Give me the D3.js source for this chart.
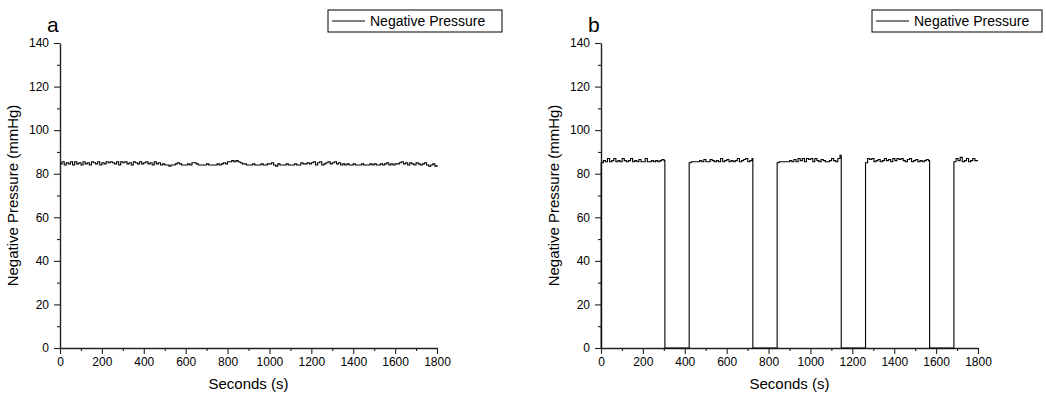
<!DOCTYPE html>
<html>
<head>
<meta charset="utf-8">
<script src="https://cdn.jsdelivr.net/npm/d3@7"></script>
<style>
  body { margin: 0; background: #fff; }
  svg text { font-family: "Liberation Sans", Arial, sans-serif; fill: #000; }
  .axis path, .axis line { stroke: #222; }
  .axis path { stroke-width: 1.4; }
  .axis line { stroke-width: 1.1; }
  .axis text { font-size: 12px; }
</style>
</head>
<body>
<div id="chart"></div>
<script>
// panel a: steady vacuum, one reading every 10 s from 0 to 1800 s
const aStep = 10;
const aPressure = [
  84.5,85.5,84,85,84.5,85.5,84,85.5,84.5,85,84,85.5,84.5,85,84,85.5,85,84.5,85.5,84,85,
  84.5,85.5,85,85.5,85,84.5,85.5,84,85.5,85,85.5,84.5,85,84,85.5,85,84.5,85.5,84.5,85,
  85.5,84.5,85,84,85.5,84.5,85,84,84.5,84,84,83.5,84,84,84.5,85,84.5,84,84,84,
  84.5,84,85,85,84.5,84,84,84,84,84.5,84,84,84,84,84.5,84,84.5,85,84.5,85.5,
  85.5,86,85.5,86,85.5,85,84.5,84.5,84,84,84,84.5,84,84,84,84.5,84,84,84.5,84.5,
  85,84,83.5,84.5,84,84,84,84.5,84,84,84,84.5,84,84,85,84.5,84.5,85,84.5,85,
  85.5,84,85,85.5,84,84.5,85,85.5,84.5,85,85.5,84.5,85,84,84.5,84,84.5,84,84,84.5,
  84,84,84,84.5,84,84,84,84.5,84,84.5,84,84,84.5,84,84.5,85,84,84.5,84,84.5,
  84.5,85,85.5,84.5,85,84,85,84.5,84,85,84.5,84,84.5,85,84,83.5,84,84.5,83.5,84
];

// panel b: intermittent vacuum, on/off cycles
const bOnStart = [0, 420, 840, 1262, 1684];
const bOnEnd = [304, 724, 1146, 1568, 1800];
const bStep = 10;
const bSeg1 = [85,86,85.5,87,85.5,86,87,85.5,86,85.5,87,86,85.5,86,87,85.5,86,85.5,86.5,85.5,85.5,87,85.5,85.5,86,85.5,86,85.5,86,86.5,86];
const bSeg2 = [85,85.5,85.5,85.5,85.5,86,85.5,86.5,85.5,85.5,86.5,86,85.5,86,85.5,87,85.5,86,86.5,85.5,86,85.5,86,87,85.5,86,86.5,87,85.5,86,87];
const bSeg3 = [85,85.5,85.5,85.5,85.5,85.5,86,85.5,86.5,85.5,87,86,87,85.5,87,86.5,87,85.5,87,86,85.5,86.5,86,85.5,85.5,86,87,86,85.5,87,88.5];
const bSeg4 = [85,87,86.5,87,85.5,86,86.5,85.5,86,87,86,86.5,85.5,87,86,87,86.5,87,86,85.5,86.5,87,85.5,86,86.5,85.5,86,85.5,86,86.5,86];
const bSeg5 = [85.5,87,86,87.5,85.5,86,87,85.5,86,87,86,86,86];
const bSegments = [bSeg1, bSeg2, bSeg3, bSeg4, bSeg5];

const xMajor = [0,200,400,600,800,1000,1200,1400,1600,1800];
const xMinor = [100,300,500,700,900,1100,1300,1500,1700];
const yMajor = [0,20,40,60,80,100,120,140];
const yMinor = [10,30,50,70,90,110,130];

const seriesName = "Negative Pressure";
const xTitle = "Seconds (s)";
const yTitle = "Negative Pressure (mmHg)";

// build point lists
const aData = aPressure.map((p, i) => ({ t: i * aStep, p: p }));

const bData = [];
bSegments.forEach((seg, k) => {
  const s = bOnStart[k], e = bOnEnd[k];
  bData.push({ t: s, p: 0 });
  seg.forEach((p, i) => bData.push({ t: Math.min(s + i * bStep + 1, e), p: p }));
  if (e < 1800) {
    bData.push({ t: e + 1, p: 0 });
  }
  if (k < bSegments.length - 1) bData.push({ t: bOnStart[k + 1], p: 0 });
});

const width = 1046, height = 394;
const svg = d3.select("#chart").append("svg")
  .attr("width", width)
  .attr("height", height);

const panels = [
  { label: "a", data: aData, left: 60, legendX: 328, legendW: 174 },
  { label: "b", data: bData, left: 601, legendX: 872, legendW: 170 }
];

const plotW = 377, plotTop = 43, plotBottom = 348;

panels.forEach((pn) => {
  const g = svg.append("g");

  const x = d3.scaleLinear().domain([0, 1800]).range([pn.left, pn.left + plotW]);
  const y = d3.scaleLinear().domain([0, 140]).range([plotBottom, plotTop]);

  // minor ticks
  g.append("g")
    .attr("class", "axis")
    .attr("transform", `translate(0,${plotBottom})`)
    .call(d3.axisBottom(x).tickValues(xMinor).tickSize(3).tickSizeOuter(0).tickFormat(""))
    .select(".domain").remove();
  g.append("g")
    .attr("class", "axis")
    .attr("transform", `translate(${pn.left},0)`)
    .call(d3.axisLeft(y).tickValues(yMinor).tickSize(3).tickSizeOuter(0).tickFormat(""))
    .select(".domain").remove();

  // major ticks
  g.append("g")
    .attr("class", "axis")
    .attr("transform", `translate(0,${plotBottom})`)
    .call(d3.axisBottom(x).tickValues(xMajor).tickSize(6).tickSizeOuter(0).tickPadding(3).tickFormat(d3.format("d")));
  g.append("g")
    .attr("class", "axis")
    .attr("transform", `translate(${pn.left},0)`)
    .call(d3.axisLeft(y).tickValues(yMajor).tickSize(6).tickSizeOuter(0).tickPadding(5).tickFormat(d3.format("d")));

  // stepped trace, like the sensor log
  const line = d3.line()
    .curve(d3.curveStepAfter)
    .x((d) => x(d.t))
    .y((d) => y(d.p));

  g.append("path")
    .datum(pn.data)
    .attr("fill", "none")
    .attr("stroke", "#000")
    .attr("stroke-width", 1.1)
    .attr("d", line);

  // axis titles
  g.append("text")
    .attr("x", pn.left + plotW / 2)
    .attr("y", 389)
    .attr("text-anchor", "middle")
    .style("font-size", "15px")
    .text(xTitle);

  g.append("text")
    .attr("transform", `translate(${pn.left - 42},${(plotTop + plotBottom) / 2}) rotate(-90)`)
    .attr("text-anchor", "middle")
    .style("font-size", "15px")
    .text(yTitle);

  // panel label
  g.append("text")
    .attr("x", pn.left - 13)
    .attr("y", 32)
    .style("font-size", "21px")
    .text(pn.label);

  // legend
  const lg = g.append("g").attr("transform", `translate(${pn.legendX},10)`);
  lg.append("rect")
    .attr("width", pn.legendW)
    .attr("height", 22)
    .attr("fill", "#fff")
    .attr("stroke", "#000")
    .attr("stroke-width", 1);
  lg.append("line")
    .attr("x1", 4).attr("x2", 37)
    .attr("y1", 11).attr("y2", 11)
    .attr("stroke", "#000")
    .attr("stroke-width", 1);
  lg.append("text")
    .attr("x", 42)
    .attr("y", 16)
    .style("font-size", "14px")
    .text(seriesName);
});
</script>
</body>
</html>
